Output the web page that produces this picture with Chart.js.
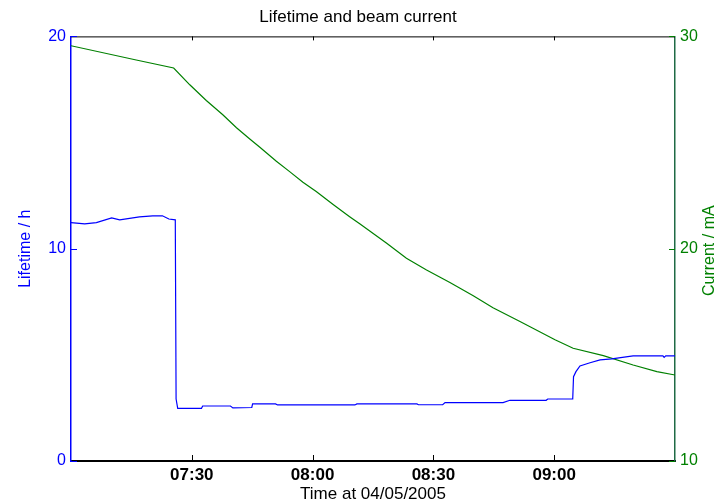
<!DOCTYPE html>
<html>
<head>
<meta charset="utf-8">
<script src="https://cdn.jsdelivr.net/npm/chart.js@4.4.1/dist/chart.umd.min.js"></script>
<style>
  html, body { margin: 0; padding: 0; background: #fff; }
  #wrap { width: 716px; height: 503px; }
</style>
</head>
<body>
<div id="wrap"><canvas id="lifetimeChart" width="716" height="503"></canvas></div>
<script>
// minutes after 07:00 on 04/05/2005
var startHour = 7;
var tickMinutes = [30, 60, 90, 120];

var lifetimeMinutes = [0, 3.4, 6.3, 10.1, 12.1, 17.0, 20.3, 22.7, 24.3, 25.9, 26.1, 26.5, 32.4, 32.7, 39.6, 40.2,
    44.9, 45.1, 50.8, 51.3, 70.5, 71.0, 85.9, 86.3, 92.3, 92.9, 107.3, 109.0, 118.0, 118.4, 124.6, 124.8,
    125.4, 126.4, 128.9, 131.4, 134.3, 139.6, 147.0, 147.3, 147.7, 150];
var lifetimeHours = [11.23, 11.17, 11.23, 11.45, 11.36, 11.50, 11.55, 11.55, 11.40, 11.36, 2.92, 2.48, 2.48, 2.59, 2.59, 2.50,
    2.52, 2.69, 2.69, 2.64, 2.64, 2.69, 2.69, 2.65, 2.65, 2.75, 2.75, 2.86, 2.86, 2.92, 2.92, 3.97,
    4.21, 4.48, 4.63, 4.76, 4.81, 4.95, 4.95, 4.88, 4.95, 4.95];

var currentMinutes = [0, 16.2, 25.5, 29.5, 33.6, 37.7, 41.1, 44.4, 46.9, 51.0, 54.3, 57.6, 60.9, 65.1, 69.2,
    71.7, 78.4, 83.3, 88.3, 94.1, 99.9, 104.8, 111.5, 120.2, 124.7, 132.2, 139.6, 145.5, 150];
var currentMA = [29.56, 28.89, 28.51, 27.72, 26.98, 26.31, 25.70, 25.17, 24.78, 24.12, 23.63, 23.13, 22.69, 22.08, 21.51,
    21.17, 20.26, 19.55, 19.00, 18.41, 17.78, 17.22, 16.57, 15.71, 15.31, 14.96, 14.52, 14.21, 14.05];

var FONT = "'Liberation Sans', Arial, sans-serif";
var BLUE = '#0000ff';
var GREEN = '#008000';

function clockLabel(v) {
    var m = Math.round(startHour * 60 + v);
    var h = Math.floor(m / 60), mm = m % 60;
    return (h < 10 ? '0' : '') + h + ':' + (mm < 10 ? '0' : '') + mm;
}

function toPoints(xs, ys) {
    return xs.map(function(x, i) { return {x: x, y: ys[i]}; });
}

// MATLAB style: ticks pointing inward, box on top, right axis title bottom-to-top
var matlabFrame = {
    id: 'matlabFrame',
    afterDatasetsDraw: function(chart) {
        var ctx = chart.ctx, a = chart.chartArea, s = chart.scales;
        ctx.save();
        ctx.lineWidth = 1;
        ctx.strokeStyle = '#000';
        ctx.beginPath();
        ctx.moveTo(a.left, a.top + 0.5);
        ctx.lineTo(a.right, a.top + 0.5);
        tickMinutes.forEach(function(v) {
            var px = Math.round(s.x.getPixelForValue(v)) + 0.5;
            ctx.moveTo(px, a.bottom);
            ctx.lineTo(px, a.bottom - 6);
            ctx.moveTo(px, a.top);
            ctx.lineTo(px, a.top + 4);
        });
        ctx.stroke();

        ctx.strokeStyle = BLUE;
        ctx.beginPath();
        s.yL.ticks.forEach(function(t) {
            var py = Math.round(s.yL.getPixelForValue(t.value)) + 0.5;
            ctx.moveTo(a.left, py);
            ctx.lineTo(a.left + 6, py);
        });
        ctx.stroke();

        ctx.strokeStyle = GREEN;
        ctx.beginPath();
        s.yR.ticks.forEach(function(t) {
            var py = Math.round(s.yR.getPixelForValue(t.value)) + 0.5;
            ctx.moveTo(a.right, py);
            ctx.lineTo(a.right - 6, py);
        });
        ctx.stroke();

        ctx.translate(710, (a.top + a.bottom) / 2 + 2);
        ctx.rotate(-Math.PI / 2);
        ctx.fillStyle = GREEN;
        ctx.font = '16px ' + FONT;
        ctx.textAlign = 'center';
        ctx.textBaseline = 'middle';
        ctx.fillText('Current / mA', 0, 0);
        ctx.restore();
    }
};

var ctx = document.getElementById('lifetimeChart').getContext('2d');
var lifetimeChart = new Chart(ctx, {
    type: 'line',
    data: {
        datasets: [
            {
                label: 'Lifetime',
                data: toPoints(lifetimeMinutes, lifetimeHours),
                yAxisID: 'yL',
                borderColor: BLUE,
                borderWidth: 1.2,
                pointRadius: 0,
                tension: 0
            },
            {
                label: 'Current',
                data: toPoints(currentMinutes, currentMA),
                yAxisID: 'yR',
                borderColor: GREEN,
                borderWidth: 1.2,
                pointRadius: 0,
                tension: 0
            }
        ]
    },
    options: {
        responsive: false,
        devicePixelRatio: 1,
        animation: false,
        layout: { padding: 0 },
        plugins: {
            legend: { display: false },
            tooltip: { enabled: false },
            title: {
                display: true,
                text: 'Lifetime and beam current',
                color: '#000',
                font: { family: FONT, size: 17, weight: 'normal', lineHeight: 1.2 },
                padding: { top: 7, bottom: 9 }
            }
        },
        scales: {
            x: {
                type: 'linear',
                min: 0,
                max: 150,
                afterBuildTicks: function(scale) {
                    scale.ticks = tickMinutes.map(function(v) { return {value: v}; });
                },
                afterFit: function(scale) { scale.height = 42; },
                grid: { drawOnChartArea: false, drawTicks: false },
                border: { display: true, color: '#000', width: 2 },
                ticks: {
                    color: '#000',
                    padding: 4,
                    maxRotation: 0,
                    font: { family: FONT, size: 17, weight: 'bold' },
                    callback: function(v) { return clockLabel(v); }
                },
                title: {
                    display: true,
                    text: 'Time at 04/05/2005',
                    color: '#000',
                    font: { family: FONT, size: 17, lineHeight: 1 },
                    padding: { top: 0, bottom: 0 }
                }
            },
            yL: {
                type: 'linear',
                position: 'left',
                min: 0,
                max: 20,
                afterFit: function(scale) { scale.width = 71; },
                grid: { drawOnChartArea: false, drawTicks: false },
                border: { display: true, color: BLUE, width: 1.5 },
                ticks: {
                    stepSize: 10,
                    color: BLUE,
                    padding: 5,
                    font: { family: FONT, size: 16 }
                },
                title: {
                    display: true,
                    text: 'Lifetime / h',
                    color: BLUE,
                    font: { family: FONT, size: 16, lineHeight: 1.2 },
                    padding: { top: 16, bottom: 0 }
                }
            },
            yR: {
                type: 'linear',
                position: 'right',
                min: 10,
                max: 30,
                afterFit: function(scale) { scale.width = 41; },
                grid: { drawOnChartArea: false, drawTicks: false },
                border: { display: true, color: '#1f6a45', width: 1.5 },
                ticks: {
                    stepSize: 10,
                    color: GREEN,
                    padding: 5,
                    font: { family: FONT, size: 16 }
                }
            }
        }
    },
    plugins: [matlabFrame]
});
</script>
</body>
</html>
